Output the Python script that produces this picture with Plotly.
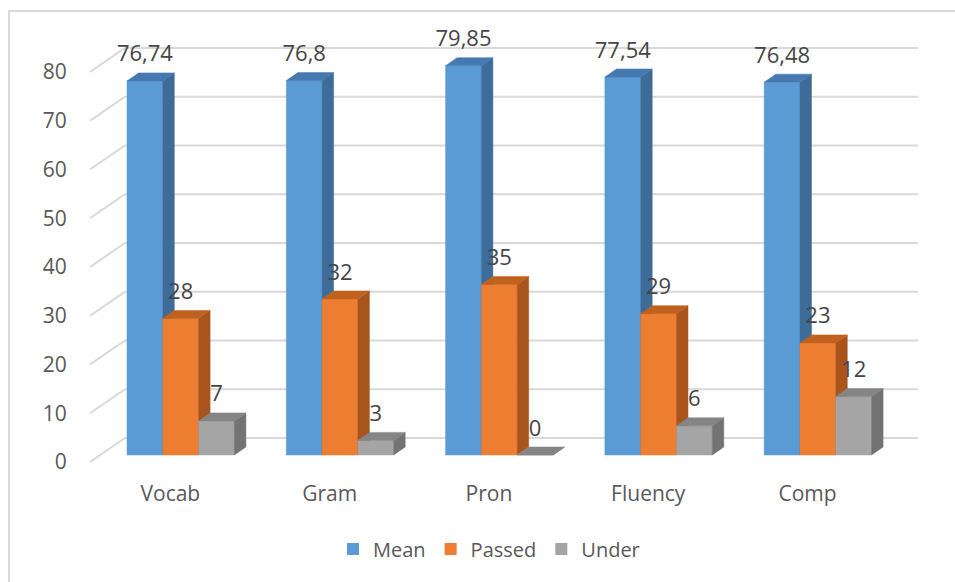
import plotly.graph_objects as go

# ---------------- data ----------------
categories = ["Vocab", "Gram", "Pron", "Fluency", "Comp"]
mean_vals = [76.74, 76.8, 79.85, 77.54, 76.48]
passed_vals = [28, 32, 35, 29, 23]
under_vals = [7, 3, 0, 6, 12]
series_names = ["Mean", "Passed", "Under"]
y_ticks = [0, 10, 20, 30, 40, 50, 60, 70, 80]

# ---------------- styling / geometry ----------------
W, H = 955, 582
L, R, T, B = 90, 25, 30, 103
PX_X = 159.3      # pixels per category unit
X0PX = 180.7      # pixel of first category centre
PX_Y = 4.875      # pixels per value unit
Y0PX = 455        # pixel of value 0 (bar bottoms)

front_cols = ["#5B9BD5", "#ED7D31", "#A5A5A5"]
side_cols = ["#3E6C99", "#A9541C", "#737373"]
top_cols = ["#4679AF", "#C0621F", "#858585"]
grid_col = "#D9D9D9"
text_col = "#595959"
label_col = "#454545"
FONT = "Open Sans"

bw = 35.8 / PX_X          # bar width in category units
ddx = 11.5 / PX_X          # bar depth (x)
ddy = 8.0 / PX_Y           # bar depth (y)
wall_dx = 35.0 / PX_X      # wall depth (x)
back_dy = 17.0 / PX_Y      # back-wall lift
front_dy = 7.0 / PX_Y      # floor front drop
label_dy = 25.0 / PX_Y     # data-label lift

x_range = [(L - X0PX) / PX_X, (W - R - X0PX) / PX_X]
y_range = [(Y0PX - (H - B)) / PX_Y, (Y0PX - T) / PX_Y]
y2_range = [y_range[0] + front_dy, y_range[1] + front_dy]

fig = go.Figure()

# ---------------- back-wall gridlines ----------------
gx, gy = [], []
x_back0 = x_range[0] + wall_dx
x_back1 = (918 - X0PX) / PX_X
for v in y_ticks:
    gx += [x_range[0], x_back0, x_back1, None]
    gy += [v - front_dy, v + back_dy, v + back_dy, None]
fig.add_trace(go.Scatter(x=gx, y=gy, mode="lines", line=dict(color=grid_col, width=2),
                         hoverinfo="skip", showlegend=False))

# ---------------- 3D bars ----------------
all_vals = [mean_vals, passed_vals, under_vals]
for k, vals in enumerate(all_vals):
    fx, fy, sx, sy, tx, ty = [], [], [], [], [], []
    for i, v in enumerate(vals):
        xl = i + (k - 1) * bw - bw / 2
        xr = xl + bw
        fx += [xl, xr, xr, xl, xl, None]
        fy += [0, 0, v, v, 0, None]
        sx += [xr, xr + ddx, xr + ddx, xr, xr, None]
        sy += [0, ddy, v + ddy, v, 0, None]
        tx += [xl, xr, xr + ddx, xl + ddx, xl, None]
        ty += [v, v, v + ddy, v + ddy, v, None]
    for xs, ys, col in [(fx, fy, front_cols[k]), (sx, sy, side_cols[k]), (tx, ty, top_cols[k])]:
        fig.add_trace(go.Scatter(x=xs, y=ys, mode="lines", fill="toself", fillcolor=col,
                                 line=dict(color=col, width=0.5), hoverinfo="skip",
                                 showlegend=False))

# ---------------- data labels ----------------
for k, vals in enumerate(all_vals):
    fig.add_trace(go.Scatter(
        x=[i + (k - 1) * bw for i in range(len(vals))],
        y=[v + label_dy for v in vals],
        mode="text",
        text=[str(v).replace(".", ",") for v in vals],
        textposition="middle center",
        textfont=dict(family=FONT, size=22, color=label_col),
        hoverinfo="skip", showlegend=False))

# ---------------- legend entries ----------------
for k, name in enumerate(series_names):
    fig.add_trace(go.Scatter(x=[None], y=[None], mode="markers", name=name,
                             marker=dict(symbol="square", size=12, color=front_cols[k])))

# dummy trace for tick-label axis
fig.add_trace(go.Scatter(x=[None], y=[None], yaxis="y2", mode="markers",
                         showlegend=False, hoverinfo="skip"))

fig.update_layout(
    width=W, height=H,
    margin=dict(l=L, r=R, t=T, b=B),
    paper_bgcolor="white", plot_bgcolor="white",
    font=dict(family=FONT, color=text_col, size=21),
    xaxis=dict(range=x_range, tickmode="array",
               tickvals=[i - 0.065 for i in range(len(categories))],
               ticktext=categories, showgrid=False, zeroline=False, showline=False,
               ticks="", tickfont=dict(size=21, color=text_col), fixedrange=True),
    yaxis=dict(range=y_range, visible=False, fixedrange=True),
    yaxis2=dict(range=y2_range, overlaying="y", side="left", tickmode="array",
                tickvals=y_ticks, showgrid=False, zeroline=False, showline=False,
                ticks="outside", ticklen=18, tickcolor="rgba(0,0,0,0)",
                tickfont=dict(size=21, color=text_col), fixedrange=True),
    legend=dict(orientation="h", x=0.475, xanchor="center", y=-0.156, yanchor="middle",
                font=dict(size=20, color=text_col), itemwidth=30,
                bgcolor="rgba(0,0,0,0)"),
    shapes=[dict(type="rect", xref="paper", yref="paper",
                 x0=(9 - L) / (W - L - R), x1=1.2,
                 y0=-0.5, y1=((H - B) - 11) / (H - B - T),
                 line=dict(color="#D9D9D9", width=2), fillcolor="rgba(0,0,0,0)",
                 layer="below")],
    showlegend=True,
)

fig.write_html("out.html")
